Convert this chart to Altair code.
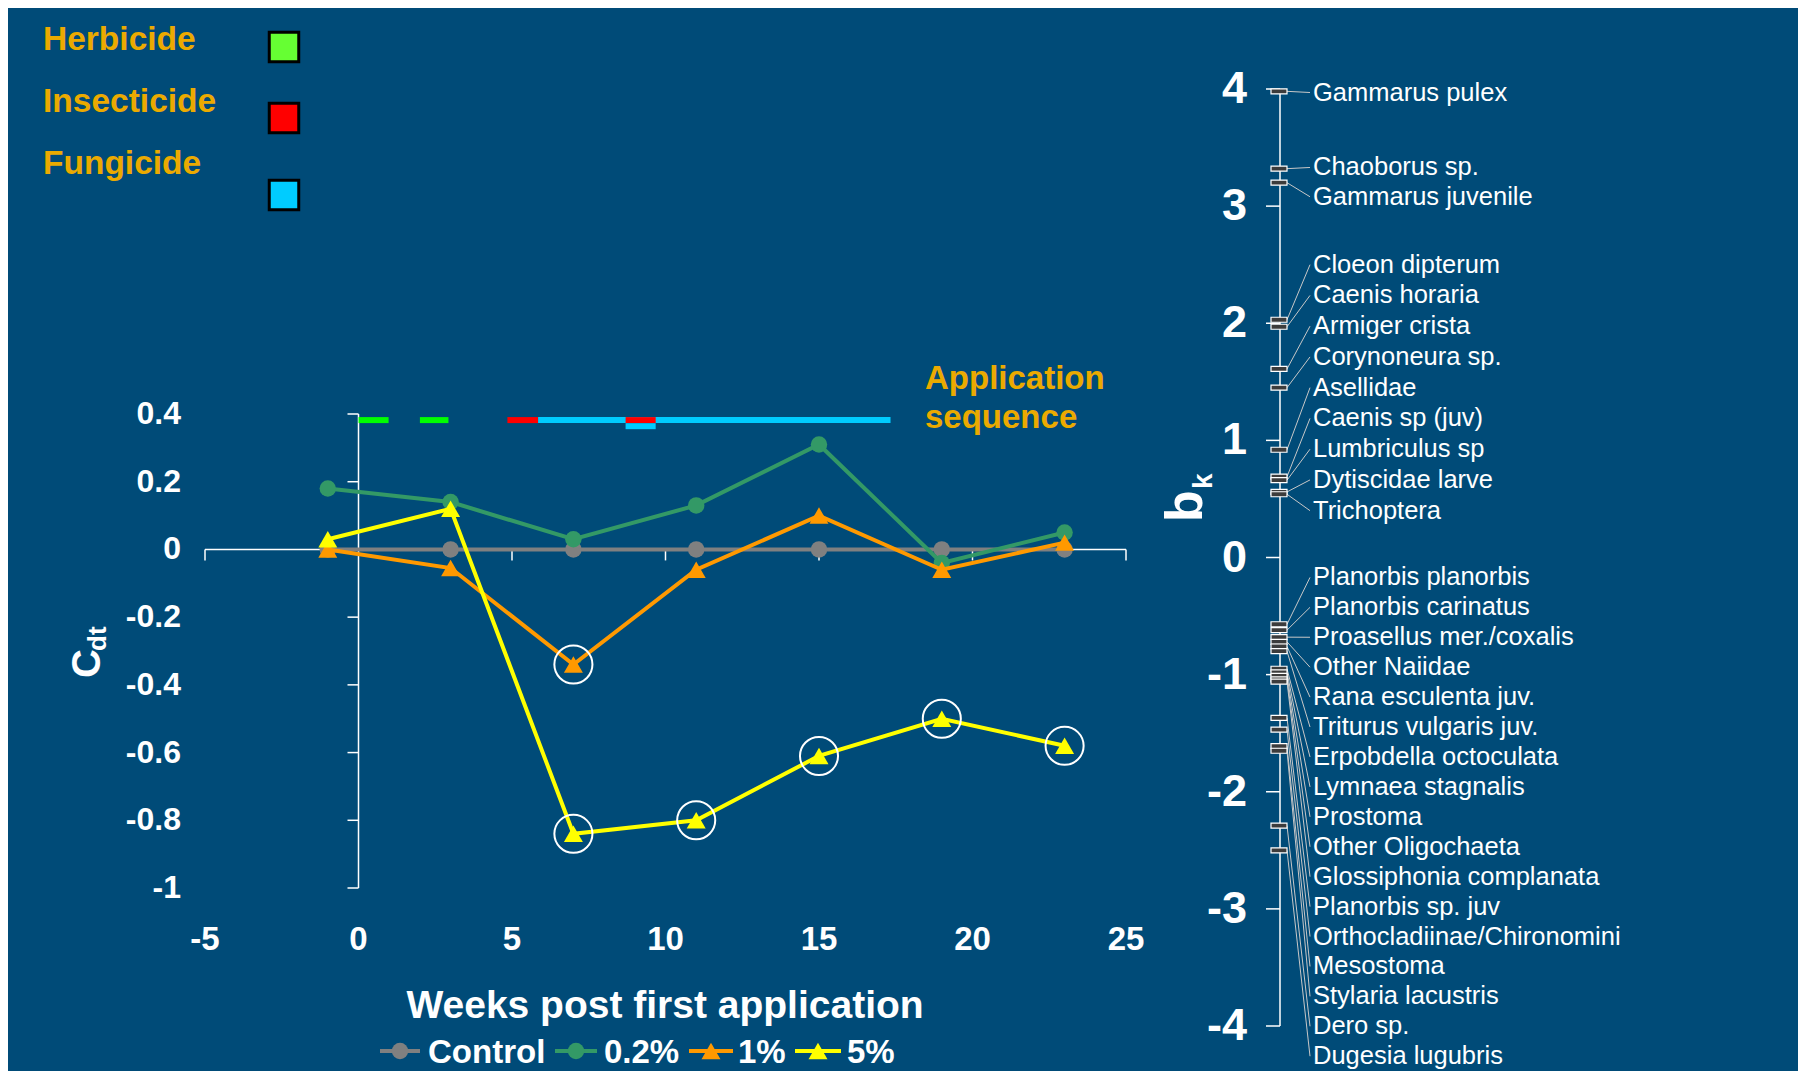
import altair as alt
import pandas as pd

# ---------------- data: left panel (Cdt over time) ----------------
weeks = [-1, 3, 7, 11, 15, 19, 23]
cdt_control = [0.0, 0.0, 0.0, 0.0, 0.0, 0.0, 0.0]
cdt_02 = [0.18, 0.14, 0.03, 0.13, 0.31, -0.04, 0.05]
cdt_1 = [0.00, -0.055, -0.34, -0.06, 0.10, -0.06, 0.02]
cdt_5 = [0.03, 0.12, -0.84, -0.80, -0.61, -0.50, -0.58]
series_names = ["Control", "0.2%", "1%", "5%"]
series_colors = ["#808080", "#339966", "#FF9900", "#FFFF00"]
series_shapes = ["circle", "circle", "triangle-up", "triangle-up"]

# circled (significant) points
sig_series = ["1%", "5%", "5%", "5%", "5%", "5%"]
sig_weeks = [7, 7, 11, 15, 19, 23]

# application sequence (weeks)
seq_type = ["Herbicide", "Herbicide", "Insecticide", "Fungicide", "Insecticide", "Fungicide"]
seq_start = [0.0, 2.0, 4.85, 5.85, 8.7, 8.7]
seq_end = [0.98, 2.93, 5.85, 17.33, 9.68, 9.68]
seq_row = [0.382, 0.382, 0.382, 0.382, 0.382, 0.364]
pest_names = ["Herbicide", "Insecticide", "Fungicide"]
pest_colors = ["#00FF00", "#FF0000", "#00CCFF"]
pest_legend_colors = ["#66FF33", "#FF0000", "#00CCFF"]

x_ticks = [-5, 0, 5, 10, 15, 20, 25]
y_ticks = [0.4, 0.2, 0, -0.2, -0.4, -0.6, -0.8, -1]
y_tick_labels = ["0.4", "0.2", "0", "-0.2", "-0.4", "-0.6", "-0.8", "-1"]

# ---------------- data: right panel (species weights bk) ----------------
species = [
    "Gammarus pulex", "Chaoborus sp.", "Gammarus juvenile",
    "Cloeon dipterum", "Caenis horaria", "Armiger crista", "Corynoneura sp.",
    "Asellidae", "Caenis sp (juv)", "Lumbriculus sp", "Dytiscidae larve", "Trichoptera",
    "Planorbis planorbis", "Planorbis carinatus", "Proasellus mer./coxalis",
    "Other Naiidae", "Rana esculenta juv.", "Triturus vulgaris juv.",
    "Erpobdella octoculata", "Lymnaea stagnalis", "Prostoma", "Other Oligochaeta",
    "Glossiphonia complanata", "Planorbis sp. juv", "Orthocladiinae/Chironomini",
    "Mesostoma", "Stylaria lacustris", "Dero sp.", "Dugesia lugubris",
]
bk = [
    3.98, 3.32, 3.20,
    2.03, 1.97, 1.61, 1.45,
    0.92, 0.69, 0.66, 0.56, 0.54,
    -0.57, -0.62, -0.68,
    -0.72, -0.76, -0.80,
    -0.95, -0.98, -1.01, -1.04,
    -1.06, -1.37, -1.47,
    -1.61, -1.65, -2.29, -2.50,
]
bk_ticks = [4, 3, 2, 1, 0, -1, -2, -3, -4]

# ---------------- layout / style ----------------
BG = "#004B78"
GOLD = "#EBAA00"
SANS = "Liberation Sans, Arial, sans-serif"
W, H = 1790, 1063

# label layout for species names (in bk units): three evenly spaced groups
label_pos = [3.97, 3.33, 3.08]
label_pos += [2.50 - 0.2625 * i for i in range(9)]
label_pos += [-0.17 - 0.2555 * i for i in range(17)]

xs = alt.Scale(domain=[-5, 25], range=[197, 1118], nice=False, zero=False)
ys = alt.Scale(domain=[-1, 0.4], range=[880, 406], nice=False, zero=False)
bs = alt.Scale(domain=[-4, 4], range=[1018, 81], nice=False, zero=False)


def qx(f):
    return alt.X(f"{f}:Q", scale=xs, axis=None)


def qy(f):
    return alt.Y(f"{f}:Q", scale=ys, axis=None)


def qb(f):
    return alt.Y(f"{f}:Q", scale=bs, axis=None)


one = pd.DataFrame({"k": [0]})


def label(text, x, y, size, color="white", weight="bold", align="left", angle=0):
    return alt.Chart(one).mark_text(
        text=text, align=align, baseline="alphabetic", fontSize=size,
        fontWeight=weight, color=color, font=SANS, angle=angle,
    ).encode(x=alt.value(x), y=alt.value(y))


# ---------------- left panel ----------------
left = []
left.append(
    alt.Chart(pd.DataFrame({"a": [-5], "b": [25], "y": [0]}))
    .mark_rule(color="white", strokeWidth=1.5)
    .encode(x=qx("a"), x2=alt.X2("b"), y=qy("y"))
)
left.append(
    alt.Chart(pd.DataFrame({"x": [0], "a": [-1], "b": [0.4]}))
    .mark_rule(color="white", strokeWidth=1.5)
    .encode(x=qx("x"), y=qy("a"), y2=alt.Y2("b"))
)
left.append(
    alt.Chart(pd.DataFrame({"t": [t for t in x_ticks if t != 0], "y": 0}))
    .mark_tick(orient="vertical", size=11, thickness=1.5, yOffset=5.5, color="white", opacity=1)
    .encode(x=qx("t"), y=qy("y"))
)
left.append(
    alt.Chart(pd.DataFrame({"t": y_ticks, "x": 0}))
    .mark_tick(orient="horizontal", size=11, thickness=1.5, xOffset=-5.5, color="white", opacity=1)
    .encode(x=qx("x"), y=qy("t"))
)
seq = pd.DataFrame({"type": seq_type, "s": seq_start, "e": seq_end, "row": seq_row})
left.append(
    alt.Chart(seq).mark_rule(strokeWidth=6).encode(
        x=qx("s"), x2=alt.X2("e"), y=qy("row"),
        color=alt.Color("type:N", scale=alt.Scale(domain=pest_names, range=pest_colors), legend=None),
    )
)
series_vals = [cdt_control, cdt_02, cdt_1, cdt_5]
for name, vals, col, shp in zip(series_names, series_vals, series_colors, series_shapes):
    df = pd.DataFrame({"week": weeks, "cdt": vals})
    base = alt.Chart(df).encode(x=qx("week"), y=qy("cdt"))
    left.append(base.mark_line(color=col, strokeWidth=4))
    left.append(base.mark_point(shape=shp, filled=True, color=col, opacity=1,
                                size=270 if shp == "circle" else 360))
lookup = dict(zip(series_names, series_vals))
ring_df = pd.DataFrame({
    "week": sig_weeks,
    "cdt": [lookup[s][weeks.index(w)] for s, w in zip(sig_series, sig_weeks)],
})
left.append(
    alt.Chart(ring_df).mark_point(shape="circle", filled=False, color="white",
                                  strokeWidth=2, size=1450, opacity=1)
    .encode(x=qx("week"), y=qy("cdt"))
)
left.append(
    alt.Chart(pd.DataFrame({"t": y_ticks, "lab": y_tick_labels}))
    .mark_text(align="right", baseline="middle", font=SANS, fontWeight="bold", fontSize=32, color="white")
    .encode(x=alt.value(173), y=qy("t"), text="lab:N")
)
left.append(
    alt.Chart(pd.DataFrame({"t": x_ticks, "lab": [str(t) for t in x_ticks]}))
    .mark_text(align="center", baseline="middle", font=SANS, fontWeight="bold", fontSize=33, color="white")
    .encode(x=qx("t"), y=alt.value(932), text="lab:N")
)

# ---------------- right panel ----------------
right = []
right.append(
    alt.Chart(pd.DataFrame({"a": [-4], "b": [4]}))
    .mark_rule(color="white", strokeWidth=1.5)
    .encode(x=alt.value(1272), y=qb("a"), y2=alt.Y2("b"))
)
right.append(
    alt.Chart(pd.DataFrame({"t": bk_ticks}))
    .mark_rule(color="white", strokeWidth=1.5)
    .encode(x=alt.value(1258), x2=alt.value(1272), y=qb("t"))
)
right.append(
    alt.Chart(pd.DataFrame({"t": bk_ticks, "lab": [str(t) for t in bk_ticks]}))
    .mark_text(align="right", baseline="middle", font=SANS, fontWeight="bold", fontSize=45, color="white")
    .encode(x=alt.value(1239), y=qb("t"), text="lab:N")
)
sp = pd.DataFrame({"species": species, "bk": bk, "pos": label_pos})
right.append(
    alt.Chart(sp).mark_rule(color="#C8C8C8", strokeWidth=1)
    .encode(x=alt.value(1279), x2=alt.value(1302), y=qb("bk"), y2=alt.Y2("pos"))
)
right.append(
    alt.Chart(sp).mark_tick(orient="horizontal", size=16, thickness=5, fill="#3C3C3C",
                            stroke="white", strokeWidth=1.2, opacity=1)
    .encode(x=alt.value(1271), y=qb("bk"))
)
right.append(
    alt.Chart(sp).mark_text(align="left", baseline="middle", font=SANS, fontSize=25.5, color="white")
    .encode(x=alt.value(1305), y=qb("pos"), text="species:N")
)

# ---------------- annotations ----------------
ann = []
legend_text_y = [42, 104, 166]
legend_sq_y = [39, 110, 187]
for i, (nm, col) in enumerate(zip(pest_names, pest_legend_colors)):
    ann.append(label(nm, 35, legend_text_y[i], 33.5, color=GOLD))
    ann.append(
        alt.Chart(one).mark_point(shape="square", filled=True, fill=col, stroke="black",
                                  strokeWidth=3, size=870, opacity=1)
        .encode(x=alt.value(276), y=alt.value(legend_sq_y[i]))
    )
ann.append(label("Application", 917, 381, 33, color=GOLD))
ann.append(label("sequence", 917, 420, 33, color=GOLD))
ann.append(label("Weeks post first application", 657, 1010, 39, align="center"))
ann.append(label("C", 92, 670, 40, angle=270))
ann.append(label("dt", 98, 643, 26, angle=270))
ann.append(label("b", 1194, 514, 52, angle=270))
ann.append(label("k", 1204, 481, 28, angle=270))

leg_x0 = [372, 547, 681, 787]
leg_x1 = [412, 589, 725, 833]
leg_tx = [420, 596, 730, 839]
leg_y = 1043
for i, (name, col, shp) in enumerate(zip(series_names, series_colors, series_shapes)):
    ann.append(
        alt.Chart(one).mark_rule(color=col, strokeWidth=4)
        .encode(x=alt.value(leg_x0[i]), x2=alt.value(leg_x1[i]), y=alt.value(leg_y))
    )
    ann.append(
        alt.Chart(one).mark_point(shape=shp, filled=True, color=col, opacity=1,
                                  size=270 if shp == "circle" else 360)
        .encode(x=alt.value((leg_x0[i] + leg_x1[i]) / 2), y=alt.value(leg_y))
    )
    ann.append(label(name, leg_tx[i], leg_y + 12, 33))

chart = (
    alt.layer(alt.layer(*left), alt.layer(*right), *ann)
    .resolve_scale(x="independent", y="independent", color="independent")
    .properties(width=W, height=H, background=BG, padding=0,
                autosize=alt.AutoSizeParams(type="none"))
    .configure_view(strokeWidth=0, fill=BG)
)

chart.save("out.html", embed_options={"renderer": "svg", "actions": False})
